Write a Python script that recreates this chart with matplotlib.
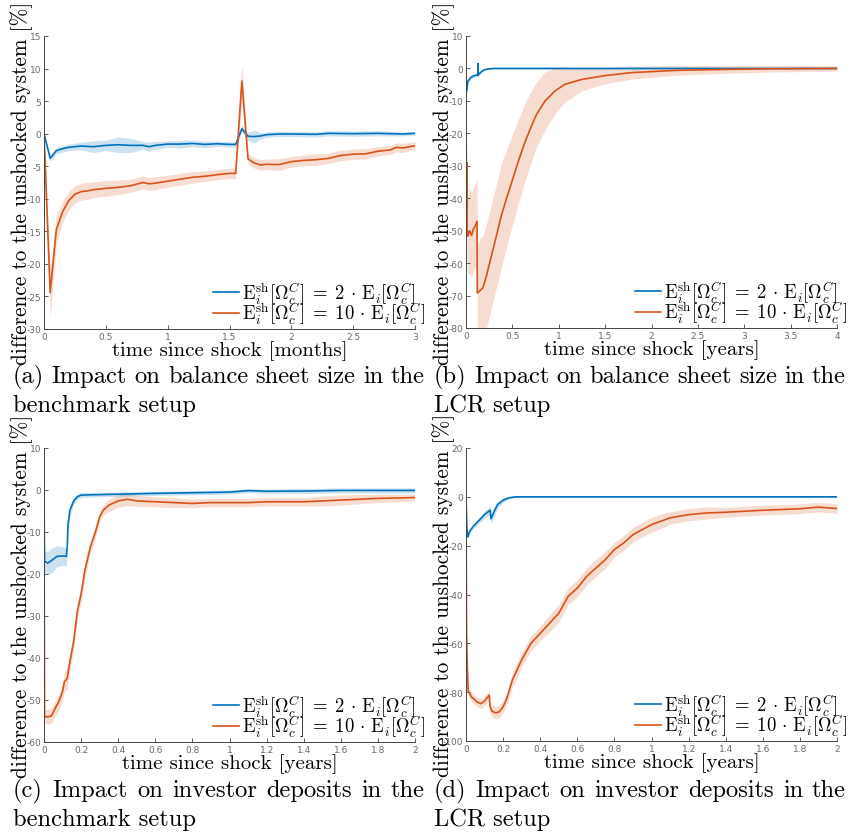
import matplotlib
matplotlib.use("Agg")
import matplotlib.pyplot as plt
import numpy as np

plt.rcParams['mathtext.fontset'] = 'cm'
plt.rcParams['axes.unicode_minus'] = False

BLUE = '#0072BD'
ORANGE = '#D95319'

# ---------------- (a) balance sheet, benchmark [months] ----------------
ta_blue = [0, 0.05, 0.1, 0.15, 0.2, 0.3, 0.4, 0.5, 0.6, 0.7, 0.8, 0.85, 0.9, 1.0, 1.1, 1.2,
           1.3, 1.4, 1.5, 1.55, 1.6, 1.65, 1.7, 1.75, 1.8, 1.9, 2.0, 2.2, 2.3, 2.5, 2.7, 2.9, 3.0]
ya_blue = [0, -3.8, -2.6, -2.3, -2.1, -1.9, -2.0, -1.8, -1.7, -1.8, -1.8, -2.0, -1.8, -1.6, -1.6, -1.5,
           -1.65, -1.55, -1.65, -1.65, 0.75, -0.4, -0.45, -0.35, -0.15, -0.05, -0.05, -0.1, 0.05, 0.0, 0.05, -0.05, 0.05]
wa_blue = [0, 0.5, 0.5, 0.5, 0.5, 0.6, 0.9, 0.8, 1.2, 1.1, 0.6, 0.7, 0.6, 0.5, 0.6, 0.5,
           0.5, 0.4, 0.4, 0.4, 0.6, 0.6, 1.0, 0.5, 0.4, 0.4, 0.4, 0.4, 0.4, 0.4, 0.4, 0.3, 0.3]

ta_orange = [0, 0.05, 0.1, 0.15, 0.2, 0.25, 0.3, 0.35, 0.4, 0.5, 0.6, 0.7, 0.8, 0.85, 0.9, 1.0,
             1.1, 1.2, 1.3, 1.4, 1.5, 1.55, 1.6, 1.65, 1.7, 1.75, 1.8, 1.9, 2.0, 2.1, 2.2, 2.3,
             2.4, 2.5, 2.6, 2.7, 2.8, 2.85, 2.9, 3.0]
ya_orange = [0, -24.4, -14.7, -12.0, -10.3, -9.3, -8.9, -8.8, -8.6, -8.4, -8.25, -8.0, -7.5, -7.7, -7.6, -7.3,
             -7.0, -6.7, -6.55, -6.3, -6.1, -6.1, 8.1, -3.9, -4.5, -4.8, -4.7, -4.75, -4.3, -4.1, -4.0, -3.8,
             -3.35, -3.15, -3.1, -2.7, -2.5, -2.1, -2.2, -1.85]
wa_orange = [0, 3.8, 2.2, 1.6, 1.4, 1.3, 1.3, 1.3, 1.2, 1.2, 1.1, 1.0, 1.0, 1.0, 1.0, 0.9,
             0.9, 0.9, 0.8, 0.8, 0.8, 0.8, 2.6, 0.8, 0.8, 0.8, 0.8, 0.9, 0.8, 0.8, 0.9, 0.8,
             0.8, 0.8, 0.8, 0.7, 0.7, 0.7, 0.7, 0.6]

# ---------------- (b) balance sheet, LCR [years] ----------------
tb_blue = [0, 0.005, 0.02, 0.05, 0.08, 0.12, 0.128, 0.13, 0.132, 0.14, 0.17, 0.2, 0.25, 0.3, 0.5, 1, 2, 3, 4]
yb_blue = [0, -7.0, -4.0, -2.8, -2.3, -2.0, -2.0, 1.5, -2.0, -1.7, -0.9, -0.4, -0.1, 0, 0, 0, 0, 0, 0]
wb_blue = [0, 0.8, 0.6, 0.5, 0.5, 0.5, 0.5, 0.5, 0.5, 0.5, 0.4, 0.3, 0.2, 0.2, 0.2, 0.2, 0.2, 0.2, 0.2]

tb_orange = [0, 0.003, 0.008, 0.012, 0.02, 0.04, 0.06, 0.08, 0.1, 0.119, 0.122, 0.15, 0.183, 0.22, 0.273,
             0.327, 0.38, 0.435, 0.49, 0.56, 0.633, 0.705, 0.76, 0.85, 0.957, 1.065, 1.245,
             1.5, 1.78, 2.25, 2.8, 3.3, 4.0]
yb_orange = [0, -43.5, -29.0, -49.6, -51.7, -50.0, -51.5, -49.5, -48.5, -47.1, -69.2, -68.5, -67.6, -64.0, -57.9,
             -51.7, -45.5, -40.2, -35.3, -29.0, -22.9, -17.8, -14.2, -10.1, -7.0, -4.9, -3.4,
             -2.2, -1.3, -0.6, -0.3, -0.1, 0.0]
wb_orange = [0, 8, 10, 12, 12, 13, 13, 13, 13, 13, 15, 16, 16, 16, 16,
             16, 16, 15, 14, 13, 12, 11, 10, 9, 7, 5.5, 3.5,
             2.5, 2.0, 1.5, 1.2, 1.0, 0.8]

# ---------------- (c) investor deposits, benchmark [years] ----------------
tc_blue = [0, 0.003, 0.02, 0.04, 0.07, 0.1, 0.12, 0.125, 0.13, 0.14, 0.16, 0.18, 0.2, 0.3, 0.4,
           0.6, 0.8, 1.0, 1.1, 1.2, 1.4, 1.6, 1.8, 2.0]
yc_blue = [0, -17.0, -17.4, -16.8, -15.8, -15.7, -15.8, -13.6, -8.0, -4.8, -2.6, -1.6, -1.2, -1.1, -1.0,
           -0.8, -0.65, -0.5, -0.15, -0.3, -0.25, -0.1, -0.1, -0.1]
wc_blue = [0, 2.5, 2.8, 3.0, 2.5, 2.2, 2.2, 2.0, 1.5, 1.2, 0.8, 0.7, 0.6, 0.5, 0.5,
           0.5, 0.5, 0.5, 0.5, 0.5, 0.6, 0.6, 0.6, 0.6]

tc_orange = [0, 0.003, 0.02, 0.04, 0.06, 0.08, 0.1, 0.11, 0.12, 0.125, 0.14, 0.16, 0.18, 0.2, 0.22,
             0.25, 0.28, 0.3, 0.32, 0.35, 0.4, 0.45, 0.5, 0.6, 0.7, 0.8, 0.9, 1.0, 1.1, 1.2,
             1.4, 1.5, 1.6, 1.8, 2.0]
yc_orange = [0, -54.0, -54.0, -53.8, -52.0, -50.4, -48.0, -45.6, -45.2, -44.8, -40.8, -36.0, -28.8, -24.8, -19.2,
             -13.6, -9.6, -6.4, -4.8, -3.6, -2.6, -2.2, -2.6, -2.8, -3.0, -3.2, -3.0, -3.0, -3.0, -2.8,
             -2.8, -2.6, -2.4, -2.0, -1.8]
wc_orange = [0, 1.5, 1.8, 1.8, 1.8, 2.0, 2.0, 2.2, 2.5, 2.5, 2.2, 2.0, 2.0, 2.0, 1.8,
             1.5, 1.5, 1.2, 1.2, 1.5, 1.5, 1.5, 1.3, 1.2, 1.2, 1.0, 1.0, 1.0, 1.0, 1.0,
             1.0, 1.2, 1.2, 1.0, 0.8]

# ---------------- (d) investor deposits, LCR [years] ----------------
td_blue = [0, 0.005, 0.01, 0.02, 0.04, 0.07, 0.1, 0.13, 0.135, 0.15, 0.17, 0.2, 0.23, 0.27, 0.3, 0.5, 1, 1.5, 2]
yd_blue = [0, -13.4, -16.4, -14.1, -12.0, -9.7, -7.3, -5.5, -9.0, -6.3, -3.2, -1.4, -0.4, 0, 0, 0, 0, 0, 0]
wd_blue = [0, 1.0, 1.0, 1.0, 1.0, 1.2, 1.5, 1.8, 2.0, 2.0, 1.5, 1.0, 0.5, 0.3, 0.3, 0.3, 0.3, 0.3, 0.3]

td_orange = [0, 0.003, 0.008, 0.012, 0.03, 0.06, 0.08, 0.1, 0.125, 0.13, 0.14, 0.16, 0.18, 0.2, 0.22,
             0.25, 0.3, 0.35, 0.4, 0.45, 0.5, 0.55, 0.6, 0.65, 0.7, 0.75, 0.8, 0.85, 0.9, 0.95,
             1.0, 1.05, 1.1, 1.2, 1.3, 1.4, 1.5, 1.6, 1.7, 1.8, 1.9, 2.0]
yd_orange = [0, -56.0, -72.0, -79.5, -82.0, -84.0, -84.7, -83.6, -81.2, -86.0, -87.8, -88.5, -88.0, -86.0, -82.6,
             -75.0, -66.8, -60.0, -55.9, -51.8, -47.7, -40.8, -37.4, -32.6, -29.2, -25.8, -21.6, -18.9, -15.5, -13.4,
             -11.4, -10.0, -8.6, -7.3, -6.6, -6.3, -5.9, -5.5, -5.2, -4.9, -4.2, -4.8]
wd_orange = [0, 2.0, 2.0, 2.0, 2.0, 2.0, 2.0, 2.0, 2.0, 2.5, 2.5, 2.5, 2.5, 2.5, 2.5,
             3.0, 3.0, 3.0, 3.0, 3.5, 3.5, 3.5, 3.5, 3.5, 3.5, 3.5, 3.0, 3.0, 3.0, 3.0,
             3.0, 3.0, 2.5, 2.5, 2.5, 2.0, 2.0, 2.0, 2.0, 2.0, 2.0, 2.0]

panels = [
    dict(pos=[44, 330, 371, 293], xlim=(0, 3), xticks=[0, 0.5, 1, 1.5, 2, 2.5, 3],
         ylim=(-30, 15), yticks=[-30, -25, -20, -15, -10, -5, 0, 5, 10, 15],
         xlabel='time since shock [months]',
         blue=(ta_blue, ya_blue, wa_blue), orange=(ta_orange, ya_orange, wa_orange),
         cap=['(a) Impact on balance sheet size in the', 'benchmark setup'], capx=13, capy=377),
    dict(pos=[466, 329, 371, 292], xlim=(0, 4), xticks=[0, 0.5, 1, 1.5, 2, 2.5, 3, 3.5, 4],
         ylim=(-80, 10), yticks=[-80, -70, -60, -50, -40, -30, -20, -10, 0, 10],
         xlabel='time since shock [years]',
         blue=(tb_blue, yb_blue, wb_blue), orange=(tb_orange, yb_orange, wb_orange),
         cap=['(b) Impact on balance sheet size in the', 'LCR setup'], capx=434, capy=377),
    dict(pos=[44, 743, 371, 294], xlim=(0, 2), xticks=[0, 0.2, 0.4, 0.6, 0.8, 1, 1.2, 1.4, 1.6, 1.8, 2],
         ylim=(-60, 10), yticks=[-60, -50, -40, -30, -20, -10, 0, 10],
         xlabel='time since shock [years]',
         blue=(tc_blue, yc_blue, wc_blue), orange=(tc_orange, yc_orange, wc_orange),
         cap=['(c) Impact on investor deposits in the', 'benchmark setup'], capx=13, capy=791),
    dict(pos=[466, 742, 371, 293], xlim=(0, 2), xticks=[0, 0.2, 0.4, 0.6, 0.8, 1, 1.2, 1.4, 1.6, 1.8, 2],
         ylim=(-100, 20), yticks=[-100, -80, -60, -40, -20, 0, 20],
         xlabel='time since shock [years]',
         blue=(td_blue, yd_blue, wd_blue), orange=(td_orange, yd_orange, wd_orange),
         cap=['(d) Impact on investor deposits in the', 'LCR setup'], capx=434, capy=791),
]

W, H = 851, 837
fig = plt.figure(figsize=(W / 100, H / 100), dpi=100)
SERIF = ['cmr10', 'DejaVu Serif']

lab2 = r'$\mathrm{E}_i^{\mathrm{sh}}[\Omega_c^C]\;=\;2\,\cdot\,\mathrm{E}_i[\Omega_c^C]$'
lab10 = r'$\mathrm{E}_i^{\mathrm{sh}}[\Omega_c^C]\;=\;10\,\cdot\,\mathrm{E}_i[\Omega_c^C]$'

for p in panels:
    l, b, w, h = p['pos']
    ax = fig.add_axes([l / W, 1 - b / H, w / W, h / H])
    for key, col in [('orange', ORANGE), ('blue', BLUE)]:
        t, y, wd = (np.array(v, dtype=float) for v in p[key])
        ax.fill_between(t, y - wd, y + wd, color=col, alpha=0.2, lw=0)
    tb, yb, _ = p['blue']
    to, yo, _ = p['orange']
    h1, = ax.plot(tb, yb, color=BLUE, lw=1.2)
    h2, = ax.plot(to, yo, color=ORANGE, lw=1.2)
    ax.set_xlim(*p['xlim'])
    ax.set_ylim(*p['ylim'])
    ax.set_xticks(p['xticks'])
    ax.set_yticks(p['yticks'])
    ax.set_xticklabels([f'{v:g}' for v in p['xticks']])
    ax.set_yticklabels([f'{v:g}' for v in p['yticks']])
    for s in ['top', 'right']:
        ax.spines[s].set_visible(False)
    for s in ['left', 'bottom']:
        ax.spines[s].set_color('#444444')
        ax.spines[s].set_linewidth(0.7)
    ax.tick_params(direction='in', length=3, width=0.6, colors='#444444',
                   labelsize=6.5, labelcolor='#6a6a6a', pad=2)
    ax.set_xlabel(p['xlabel'], family=SERIF, fontsize=15)
    ax.xaxis.set_label_coords(0.5, -21 / h)
    ax.xaxis.label.set_va('center')
    ax.set_ylabel('difference to the unshocked system [%]', family=SERIF, fontsize=15.4)
    ax.yaxis.set_label_coords(-22 / w, 0.5)
    ax.yaxis.label.set_va('center')
    ax.legend([h1, h2], [lab2, lab10], loc='lower right',
              bbox_to_anchor=(1 + 10 / w, 3 / h), frameon=False, fontsize=13.5,
              handlelength=1.4, handletextpad=0.15, labelspacing=-0.3, borderaxespad=0,
              borderpad=0)

# justified captions
renderer = fig.canvas.get_renderer()
for p in panels:
    x0 = p['capx']
    x1 = x0 + 412
    line1, line2 = p['cap']
    words = line1.split(' ')
    objs = [fig.text(0, 0, wd_, family=SERIF, fontsize=17.6, va='center', ha='left') for wd_ in words]
    widths = [o.get_window_extent(renderer).width for o in objs]
    gap = (x1 - x0 - sum(widths)) / (len(words) - 1)
    x = x0
    for o, wd_ in zip(objs, widths):
        o.set_position((x / W, 1 - p['capy'] / H))
        x += wd_ + gap
    fig.text(x0 / W, 1 - (p['capy'] + 29) / H, line2, family=SERIF, fontsize=17.6, va='center', ha='left')

fig.savefig('out.png', dpi=100)
